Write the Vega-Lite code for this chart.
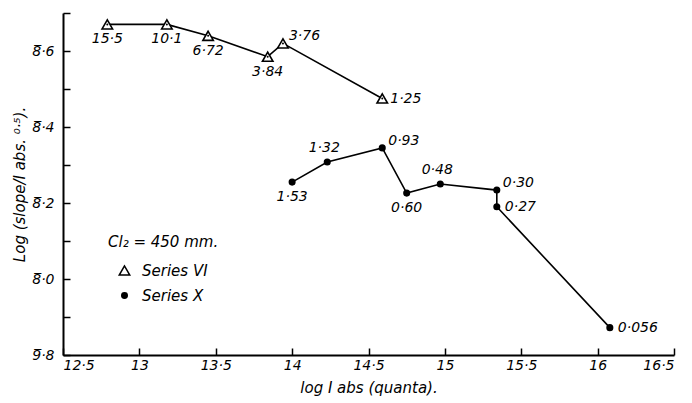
{
  "$schema": "https://vega.github.io/schema/vega-lite/v6.json",
  "description": "log(slope/Iabs^0.5) against log Iabs, two series",
  "width": 611,
  "height": 342,
  "autosize": "none",
  "padding": {"left": 63, "top": 13, "right": 18, "bottom": 48},
  "background": "white",
  "config": {
    "view": {"stroke": null},
    "font": "DejaVu Sans",
    "axis": {
      "domainColor": "black",
      "domainWidth": 2,
      "tickColor": "black",
      "tickWidth": 1.5,
      "tickSize": -7,
      "grid": false,
      "labelColor": "black",
      "labelFont": "DejaVu Sans",
      "labelFontStyle": "italic",
      "labelFontSize": 14,
      "titleFont": "DejaVu Sans",
      "titleFontStyle": "italic",
      "titleFontWeight": "normal",
      "titleFontSize": 15,
      "titleColor": "black"
    }
  },
  "data": {
    "values": [
      {"series": "Series VI", "x": 12.79, "y": 1.67, "label": "15·5", "ord": 1},
      {"series": "Series VI", "x": 13.18, "y": 1.67, "label": "10·1", "ord": 2},
      {"series": "Series VI", "x": 13.45, "y": 1.64, "label": "6·72", "ord": 3},
      {"series": "Series VI", "x": 13.84, "y": 1.585, "label": "3·84", "ord": 4},
      {"series": "Series VI", "x": 13.94, "y": 1.62, "label": "3·76", "ord": 5},
      {"series": "Series VI", "x": 14.59, "y": 1.475, "label": "1·25", "ord": 6},
      {"series": "Series X", "x": 14.0, "y": 1.255, "label": "1·53", "ord": 1},
      {"series": "Series X", "x": 14.23, "y": 1.308, "label": "1·32", "ord": 2},
      {"series": "Series X", "x": 14.59, "y": 1.345, "label": "0·93", "ord": 3},
      {"series": "Series X", "x": 14.75, "y": 1.226, "label": "0·60", "ord": 4},
      {"series": "Series X", "x": 14.97, "y": 1.25, "label": "0·48", "ord": 5},
      {"series": "Series X", "x": 15.34, "y": 1.234, "label": "0·30", "ord": 6},
      {"series": "Series X", "x": 15.34, "y": 1.19, "label": "0·27", "ord": 7},
      {"series": "Series X", "x": 16.08, "y": 0.872, "label": "0·056", "ord": 8}
    ]
  },
  "encoding": {
    "x": {
      "field": "x",
      "type": "quantitative",
      "scale": {"domain": [12.5, 16.5], "nice": false, "zero": false},
      "axis": {
        "values": [12.5, 13, 13.5, 14, 14.5, 15, 15.5, 16, 16.5],
        "labelExpr": "floor(datum.value) == datum.value ? '' + datum.value : floor(datum.value) + '·5'",
        "labelPadding": 10,
        "labelFlush": true,
        "title": "log I abs (quanta).",
        "titlePadding": 8
      }
    },
    "y": {
      "field": "y",
      "type": "quantitative",
      "scale": {"domain": [0.8, 1.7], "nice": false, "zero": false},
      "axis": {
        "values": [0.8, 0.9, 1.0, 1.1, 1.2, 1.3, 1.4, 1.5, 1.6, 1.7],
        "labelExpr": "round(datum.value * 10) == 8 ? '9\u0305·8' : (round(datum.value * 10) % 2 == 0 && round(datum.value * 10) < 17 ? '8\u0305·' + (round(datum.value * 10) - 10) : '')",
        "labelPadding": 16,
        "title": "Log (slope/I abs. ⁰·⁵).",
        "titlePadding": 4
      }
    }
  },
  "layer": [
    {
      "mark": {"type": "line", "color": "black", "strokeWidth": 1.6},
      "encoding": {
        "detail": {"field": "series"},
        "order": {"field": "ord"}
      }
    },
    {
      "mark": {"type": "point", "stroke": "black", "strokeWidth": 1.6, "opacity": 1},
      "encoding": {
        "shape": {
          "field": "series",
          "type": "nominal",
          "scale": {"domain": ["Series VI", "Series X"], "range": ["triangle-up", "circle"]},
          "legend": {
            "title": "Cl₂ = 450 mm.",
            "orient": "none",
            "legendX": 45,
            "legendY": 222,
            "titleFont": "DejaVu Sans",
            "titleFontStyle": "italic",
            "titleFontWeight": "normal",
            "titleFontSize": 15,
            "titleColor": "black",
            "titlePadding": 13,
            "labelFont": "DejaVu Sans",
            "labelFontStyle": "italic",
            "labelFontSize": 15,
            "labelColor": "black",
            "labelOffset": 10,
            "symbolOffset": 9,
            "symbolStrokeWidth": 1.5,
            "symbolStrokeColor": "black",
            "rowPadding": 9,
            "padding": 0
          }
        },
        "fill": {
          "field": "series",
          "type": "nominal",
          "scale": {"domain": ["Series VI", "Series X"], "range": ["white", "black"]}
        },
        "size": {
          "field": "series",
          "type": "nominal",
          "scale": {"domain": ["Series VI", "Series X"], "range": [110, 30]}
        }
      }
    },
    {
      "transform": [{"filter": "datum.series == 'Series VI'"}],
      "mark": {"type": "circle", "color": "black", "size": 4, "opacity": 1, "dy": 2}
    },
    {
      "transform": [{"filter": {"field": "label", "oneOf": ["15·5", "10·1", "6·72", "3·84", "1·53", "0·60"]}}],
      "mark": {"type": "text", "fontStyle": "italic", "fontSize": 14, "align": "center", "baseline": "top", "dy": 8, "color": "black"},
      "encoding": {"text": {"field": "label"}}
    },
    {
      "transform": [{"filter": {"field": "label", "oneOf": ["1·32", "0·48"]}}],
      "mark": {"type": "text", "fontStyle": "italic", "fontSize": 14, "align": "center", "baseline": "bottom", "dy": -7, "dx": -3, "color": "black"},
      "encoding": {"text": {"field": "label"}}
    },
    {
      "transform": [{"filter": {"field": "label", "oneOf": ["1·25", "0·27", "0·056"]}}],
      "mark": {"type": "text", "fontStyle": "italic", "fontSize": 14, "align": "left", "baseline": "middle", "dx": 8, "color": "black"},
      "encoding": {"text": {"field": "label"}}
    },
    {
      "transform": [{"filter": {"field": "label", "oneOf": ["3·76", "0·93", "0·30"]}}],
      "mark": {"type": "text", "fontStyle": "italic", "fontSize": 14, "align": "left", "baseline": "middle", "dx": 6, "dy": -7, "color": "black"},
      "encoding": {"text": {"field": "label"}}
    }
  ]
}
